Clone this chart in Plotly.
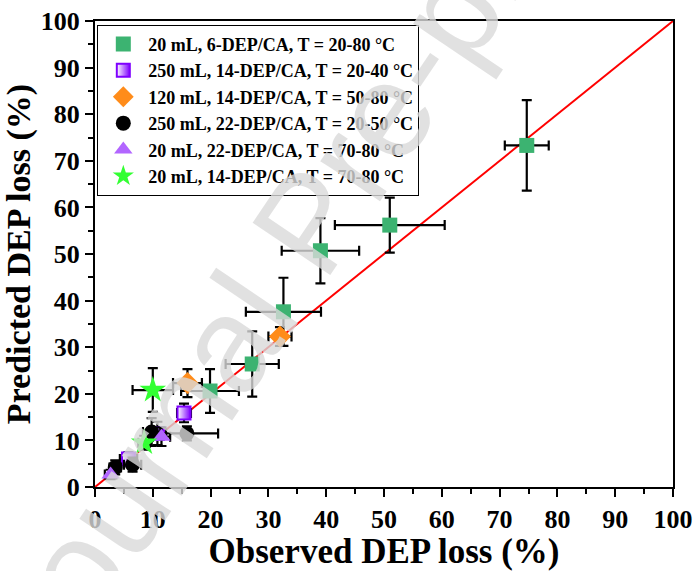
import plotly.graph_objects as go

# ---- data ----
sq_obs  = [74.7, 51.0, 39.0, 32.6, 27.2, 19.9]
sq_pred = [73.3, 56.2, 50.7, 37.6, 26.4, 20.6]
sq_xerr = [3.8, 9.5, 6.7, 6.5, 4.6, 5.0]
sq_yerr = [9.7, 5.9, 7.0, 7.3, 7.0, 4.7]

pu_obs  = [15.4, 10.8, 5.8]
pu_pred = [15.9, 11.5, 6.0]
pu_xerr = [1.2, 1.5, 1.5]
pu_yerr = [2.0, 2.5, 1.5]

or_obs  = [32.0, 16.0]
or_pred = [32.3, 22.3]
or_xerr = [2.0, 2.5]
or_yerr = [2.0, 3.0]

bk_obs  = [15.9, 9.8, 6.5, 3.5]
bk_pred = [11.5, 11.8, 4.8, 4.2]
bk_xerr = [5.4, 1.5, 1.5, 1.0]
bk_yerr = [1.5, 3.0, 1.5, 1.5]

tr_obs  = [11.5, 2.7]
tr_pred = [10.8, 2.7]
tr_xerr = [1.5, 1.0]
tr_yerr = [2.0, 1.0]

st_obs  = [10.0, 8.5]
st_pred = [20.8, 9.5]
st_xerr = [3.5, 1.0]
st_yerr = [4.7, 1.5]

names = ["20 mL, 6-DEP/CA, T = 20-80 °C",
         "250 mL, 14-DEP/CA, T = 20-40 °C",
         "120 mL, 14-DEP/CA, T = 50-80 °C",
         "250 mL, 22-DEP/CA, T = 20-50 °C",
         "20 mL, 22-DEP/CA, T = 70-80 °C",
         "20 mL, 14-DEP/CA, T = 70-80 °C"]

FONT = "Liberation Serif"

fig = go.Figure()

# parity line
fig.add_trace(go.Scatter(x=[0, 100], y=[0, 100], mode="lines",
                         line=dict(color="red", width=2), showlegend=False,
                         hoverinfo="skip"))

def eb(arr):
    return dict(type="data", array=arr, color="black", thickness=2.2, width=5)

series = [
    (sq_obs, sq_pred, sq_xerr, sq_yerr, dict(symbol="square", size=15, color="#3CB371")),
    (pu_obs, pu_pred, pu_xerr, pu_yerr, dict(symbol="square", size=13, color="white",
                                             line=dict(color="#7F00FF", width=2),
                                             gradient=dict(type="horizontal", color="#7F00FF"))),
    (or_obs, or_pred, or_xerr, or_yerr, dict(symbol="diamond", size=17, color="#FF8C1A")),
    (bk_obs, bk_pred, bk_xerr, bk_yerr, dict(symbol="circle", size=15, color="black")),
    (tr_obs, tr_pred, tr_xerr, tr_yerr, dict(symbol="triangle-up", size=16, color="#B266FF")),
    (st_obs, st_pred, st_xerr, st_yerr, dict(symbol="star", size=20, color="#33FF33")),
]

for (xo, yp, xe, ye, mk), nm in zip(series, names):
    fig.add_trace(go.Scatter(x=xo, y=yp, mode="markers", name=nm,
                             marker=mk, error_x=eb(xe), error_y=eb(ye)))

axis_common = dict(range=[0, 100], dtick=10, ticks="outside", ticklen=8, tickwidth=2,
                   tickcolor="black", showline=True, linewidth=2, linecolor="black",
                   mirror=True, showgrid=False, zeroline=False, automargin=False,
                   tickfont=dict(family=FONT, size=26, color="black", weight="bold"),
                   minor=dict(dtick=5, ticks="outside", ticklen=5, tickwidth=2,
                              tickcolor="black", showgrid=False))

fig.update_xaxes(**axis_common,
                 title=dict(text="Observed DEP loss (%)", standoff=6,
                            font=dict(family=FONT, size=35, color="black", weight="bold")))
fig.update_yaxes(**axis_common,
                 title=dict(text="Predicted DEP loss (%)", standoff=0,
                            font=dict(family=FONT, size=34, color="black", weight="bold")))

fig.update_layout(
    width=695, height=571,
    margin=dict(l=95, r=22, t=21, b=84, autoexpand=False),
    paper_bgcolor="white", plot_bgcolor="white",
    legend=dict(x=0.004, y=0.992, xanchor="left", yanchor="top",
                bgcolor="white", bordercolor="black", borderwidth=1,
                font=dict(family=FONT, size=18, color="black", weight="bold"),
                itemwidth=40),
    annotations=[dict(text="Journal Pre-proof", xref="paper", yref="paper",
                      x=0.37, y=0.566, showarrow=False, textangle=-56,
                      font=dict(family="Liberation Sans", size=136,
                                color="rgba(218,218,218,0.8)"))],
)

fig.write_html("out.html")
